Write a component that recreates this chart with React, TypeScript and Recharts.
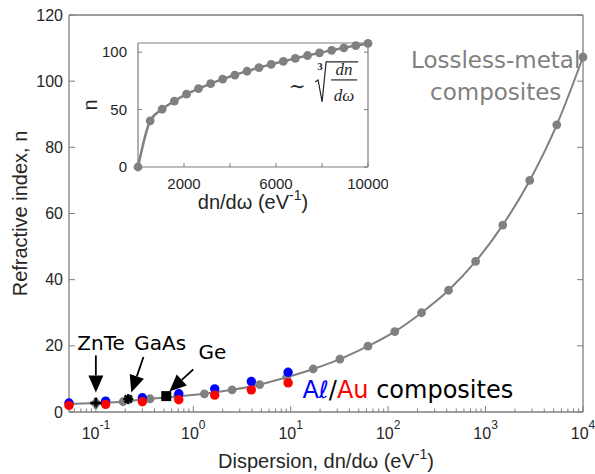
import React from "react";
import {
  ComposedChart,
  Line,
  Scatter,
  XAxis,
  YAxis,
  ReferenceLine,
  ReferenceDot,
} from "recharts";

// main panel: lossless-metal composites (gray curve + dots)
const grayX = [0.053, 0.1, 0.19, 0.36, 0.69, 1.3, 2.5, 4.8, 9.1, 17, 32, 62, 117, 220, 417, 790, 1500, 2840, 5380, 10000];
const grayN = [2.4, 2.7, 3.1, 4.0, 4.7, 5.5, 6.7, 8.3, 10.5, 13.0, 16.0, 19.9, 24.3, 30.0, 36.8, 45.5, 56.5, 70.0, 86.8, 107.3];

// Al (blue) / Au (red) composites
const metalX = [0.053, 0.126, 0.3, 0.71, 1.66, 3.94, 9.4];
const alN = [2.7, 3.3, 4.3, 5.5, 7.0, 9.2, 12.0];
const auN = [2.0, 2.3, 3.1, 3.7, 5.1, 6.7, 8.8];

// semiconductors
const materials = ["ZnTe", "GaAs", "Ge"];
const materialX = [0.1, 0.215, 0.528];
const materialN = [2.7, 3.9, 4.8];

// annotation arrows (data coords): start -> tip, plus label anchor
const arrowFromX = [0.1, 0.308, 1.0];
const arrowFromN = [17.1, 16.6, 12.9];
const arrowToX = [0.1, 0.231, 0.567];
const arrowToN = [5.9, 5.9, 6.2];
const labelX = [0.113, 0.458, 1.57];
const labelN = [18.6, 18.6, 15.9];

// inset: linear scale
const insetX = [0, 530, 1050, 1580, 2110, 2630, 3160, 3680, 4210, 4740, 5260, 5790, 6320, 6840, 7370, 7890, 8420, 8950, 9470, 10000];
const insetN = [0, 40.2, 50.3, 57.4, 63.4, 68.3, 72.6, 76.5, 80.1, 83.4, 86.5, 89.4, 92.0, 94.6, 97.1, 99.4, 101.6, 103.8, 105.8, 107.6];

const yTicks = [0, 20, 40, 60, 80, 100, 120];
const insetXTicks = [2000, 4000, 6000, 8000, 10000];
const insetXLabels = [2000, 6000, 10000];
const insetYTicks = [0, 50, 100];

const logTicks: number[] = [];
for (let d = -2; d < 4; d++) {
  for (let k = 1; k < 10; k++) {
    const v = Number((k * Math.pow(10, d)).toPrecision(3));
    if (v >= 0.06) logTicks.push(v);
  }
}
logTicks.push(10000);

const GRAY = "#808080";
const AXIS = "#7f7f7f";
const TXT = "#262626";
const SANS = "'Liberation Sans', Arial, Helvetica, sans-serif";
const DEJAVU = "'DejaVu Sans', sans-serif";
const SERIF = "'Liberation Serif', 'DejaVu Serif', serif";

const grayData = grayX.map((x, i) => ({ x, n: grayN[i] }));
const alData = metalX.map((x, i) => ({ x, n: alN[i] }));
const auData = metalX.map((x, i) => ({ x, n: auN[i] }));
const insetData = insetX.map((x, i) => ({ x, n: insetN[i] }));

function LogTick(props: any) {
  const { x, y, payload, side } = props;
  const e = Math.log10(payload.value);
  const major = Math.abs(e - Math.round(e)) < 1e-6;
  const len = major ? 6 : 3.5;
  const dir = side === "bottom" ? -1 : 1;
  return (
    <g>
      <line x1={x} y1={y} x2={x} y2={y + dir * len} stroke={AXIS} strokeWidth={1} />
      {side === "bottom" && major && (
        <text x={x} y={y + 27} textAnchor="middle" fontSize={16} fill={TXT} fontFamily={SANS}>
          <tspan>10</tspan>
          <tspan dy={-10} fontSize={12}>{Math.round(e)}</tspan>
        </text>
      )}
    </g>
  );
}

function LinTick(props: any) {
  const { x, y, payload, side, len, labels, fontSize, gap } = props;
  const v = payload.value;
  const show = labels && labels.includes(v);
  let line = null;
  let label = null;
  if (side === "left") {
    line = <line x1={x} y1={y} x2={x + len} y2={y} stroke={AXIS} />;
    if (show)
      label = (
        <text x={x - gap} y={y} dy="0.35em" textAnchor="end" fontSize={fontSize} fill={TXT} fontFamily={SANS}>
          {v}
        </text>
      );
  } else if (side === "right") {
    line = <line x1={x} y1={y} x2={x - len} y2={y} stroke={AXIS} />;
  } else if (side === "top") {
    line = <line x1={x} y1={y} x2={x} y2={y + len} stroke={AXIS} />;
  } else {
    line = <line x1={x} y1={y} x2={x} y2={y - len} stroke={AXIS} />;
    if (show)
      label = (
        <text x={x} y={y + gap} dy="0.35em" textAnchor="middle" fontSize={fontSize} fill={TXT} fontFamily={SANS}>
          {v}
        </text>
      );
  }
  return (
    <g>
      {line}
      {label}
    </g>
  );
}

function Arrow(p: any) {
  const { x1, y1, x2, y2 } = p;
  const dx = x2 - x1;
  const dy = y2 - y1;
  const L = Math.hypot(dx, dy) || 1;
  const ux = dx / L;
  const uy = dy / L;
  const hl = 17;
  const hw = 7.5;
  const bx = x2 - ux * hl;
  const by = y2 - uy * hl;
  return (
    <g>
      <line x1={x1} y1={y1} x2={bx} y2={by} stroke="#000" strokeWidth={1.8} />
      <polygon
        points={`${x2},${y2} ${bx - uy * hw},${by + ux * hw} ${bx + uy * hw},${by - ux * hw}`}
        fill="#000"
      />
    </g>
  );
}

const dotShape = (fill: string, r: number) => (p: any) =>
  <circle cx={p.cx} cy={p.cy} r={r} fill={fill} />;

const plusShape = (p: any) => (
  <g stroke="#000" strokeWidth={3}>
    <line x1={p.cx - 5.5} y1={p.cy} x2={p.cx + 5.5} y2={p.cy} />
    <line x1={p.cx} y1={p.cy - 5.5} x2={p.cx} y2={p.cy + 5.5} />
  </g>
);

const starShape = (p: any) => (
  <g stroke="#000" strokeWidth={2.6}>
    <line x1={p.cx - 5} y1={p.cy} x2={p.cx + 5} y2={p.cy} />
    <line x1={p.cx} y1={p.cy - 5} x2={p.cx} y2={p.cy + 5} />
    <line x1={p.cx - 3.6} y1={p.cy - 3.6} x2={p.cx + 3.6} y2={p.cy + 3.6} />
    <line x1={p.cx - 3.6} y1={p.cy + 3.6} x2={p.cx + 3.6} y2={p.cy - 3.6} />
  </g>
);

const squareShape = (p: any) => <rect x={p.cx - 5} y={p.cy - 5} width={10} height={10} fill="#000" />;

const markerShapes = [plusShape, starShape, squareShape];

function MainChart() {
  return (
    <ComposedChart width={595} height={474} margin={{ top: 14, right: 11, bottom: 22, left: 29 }}>
      <XAxis
        xAxisId="b"
        type="number"
        dataKey="x"
        scale="log"
        domain={[0.053, 10000]}
        ticks={logTicks}
        interval={0}
        tickSize={0}
        tickMargin={0}
        tickLine={false}
        tick={<LogTick side="bottom" />}
        height={40}
        axisLine={{ stroke: AXIS, strokeWidth: 1.3 }}
        label={{
          content: (p: any) => {
            const vb = p.viewBox;
            return (
              <text x={vb.x + vb.width / 2} y={vb.y + 56} textAnchor="middle" fontSize={20} fill={TXT} fontFamily={SANS}>
                <tspan>Dispersion, dn/dω (eV</tspan>
                <tspan dy={-9} fontSize={14}>-1</tspan>
                <tspan dy={9}>)</tspan>
              </text>
            );
          },
        }}
      />
      <XAxis
        xAxisId="t"
        orientation="top"
        type="number"
        scale="log"
        domain={[0.053, 10000]}
        allowDataOverflow
        ticks={logTicks}
        interval={0}
        tickSize={0}
        tickMargin={0}
        tickLine={false}
        tick={<LogTick side="top" />}
        height={1}
        axisLine={{ stroke: AXIS, strokeWidth: 1.3 }}
      />
      <YAxis
        yAxisId="l"
        type="number"
        domain={[0, 120]}
        ticks={yTicks}
        interval={0}
        tickSize={0}
        tickMargin={0}
        tickLine={false}
        tick={<LinTick side="left" len={6} labels={yTicks} fontSize={16} gap={6} />}
        width={40}
        axisLine={{ stroke: AXIS, strokeWidth: 1.3 }}
        label={{
          content: (p: any) => {
            const vb = p.viewBox;
            const cx = vb.x - 2;
            const cy = vb.y + vb.height / 2;
            return (
              <text x={cx} y={cy} transform={`rotate(-90 ${cx} ${cy})`} textAnchor="middle" fontSize={20} fill={TXT} fontFamily={SANS}>
                Refractive index, n
              </text>
            );
          },
        }}
      />
      <YAxis
        yAxisId="r"
        orientation="right"
        type="number"
        domain={[0, 120]}
        allowDataOverflow
        ticks={yTicks}
        interval={0}
        tickSize={0}
        tickMargin={0}
        tickLine={false}
        tick={<LinTick side="right" len={6} />}
        width={1}
        axisLine={{ stroke: AXIS, strokeWidth: 1.3 }}
      />

      <Line
        xAxisId="b"
        yAxisId="l"
        data={grayData}
        dataKey="n"
        type="monotone"
        stroke={GRAY}
        strokeWidth={2}
        dot={{ r: 4.4, fill: GRAY, stroke: GRAY, strokeWidth: 0 }}
        isAnimationActive={false}
      />
      <Scatter xAxisId="b" yAxisId="l" data={alData} dataKey="n" shape={dotShape("#0000ff", 4.7)} isAnimationActive={false} />
      <Scatter xAxisId="b" yAxisId="l" data={auData} dataKey="n" shape={dotShape("#ff0000", 4.7)} isAnimationActive={false} />
      {materials.map((m, i) => (
        <Scatter
          key={m}
          xAxisId="b"
          yAxisId="l"
          data={[{ x: materialX[i], n: materialN[i] }]}
          dataKey="n"
          shape={markerShapes[i]}
          isAnimationActive={false}
        />
      ))}

      {materials.map((m, i) => (
        <ReferenceLine
          key={`arrow-${m}`}
          xAxisId="b"
          yAxisId="l"
          segment={[
            { x: arrowFromX[i], y: arrowFromN[i] },
            { x: arrowToX[i], y: arrowToN[i] },
          ]}
          shape={(p: any) => <Arrow {...p} />}
        />
      ))}
      {materials.map((m, i) => (
        <ReferenceDot
          key={`label-${m}`}
          xAxisId="b"
          yAxisId="l"
          x={labelX[i]}
          y={labelN[i]}
          shape={(p: any) => (
            <text x={p.cx} y={p.cy} textAnchor="middle" fontSize={20} fill="#000" fontFamily={DEJAVU}>
              {m}
            </text>
          )}
        />
      ))}

      <ReferenceDot
        xAxisId="b"
        yAxisId="l"
        x={13.2}
        y={4.2}
        shape={(p: any) => (
          <text x={p.cx} y={p.cy} fontSize={24} fontFamily={DEJAVU} fill="#000">
            <tspan fill="#0000ff">Aℓ</tspan>
            <tspan>/</tspan>
            <tspan fill="#ff0000">Au</tspan>
            <tspan> composites</tspan>
          </text>
        )}
      />
      <ReferenceDot
        xAxisId="b"
        yAxisId="l"
        x={1270}
        y={103.9}
        shape={(p: any) => (
          <text x={p.cx} y={p.cy} textAnchor="middle" fontSize={23} fontFamily={DEJAVU} fill={GRAY}>
            <tspan x={p.cx}>Lossless-metal</tspan>
            <tspan x={p.cx} dy={32}>composites</tspan>
          </text>
        )}
      />
    </ComposedChart>
  );
}

function CubeRootNote(p: any) {
  const ax = p.cx;
  const ay = p.cy;
  return (
    <g fill={TXT}>
      <text x={ax - 18} y={ay + 4} textAnchor="middle" fontSize={20} fontFamily={SERIF}>
        ∼
      </text>
      <path
        d={`M${ax} ${ay - 7} L${ax + 3} ${ay - 9} L${ax + 7} ${ay + 13} L${ax + 11} ${ay - 27} L${ax + 43} ${ay - 27}`}
        fill="none"
        stroke={TXT}
        strokeWidth={1.2}
      />
      <text x={ax + 5} y={ay - 19} textAnchor="middle" fontSize={11} fontFamily={SERIF} fontWeight="bold">
        3
      </text>
      <text x={ax + 29} y={ay - 14} textAnchor="middle" fontSize={17} fontFamily={SERIF} fontStyle="italic">
        dn
      </text>
      <line x1={ax + 16} y1={ay - 9} x2={ax + 42} y2={ay - 9} stroke={TXT} strokeWidth={1.2} />
      <text x={ax + 29} y={ay + 12} textAnchor="middle" fontSize={17} fontFamily={SERIF} fontStyle="italic">
        dω
      </text>
    </g>
  );
}

function InsetChart() {
  return (
    <ComposedChart width={328} height={200} margin={{ top: 11, right: 19, bottom: 24, left: 38 }}>
      <XAxis
        xAxisId="b"
        type="number"
        dataKey="x"
        domain={[0, 10000]}
        ticks={insetXTicks}
        interval={0}
        tickSize={0}
        tickMargin={0}
        tickLine={false}
        tick={<LinTick side="bottom" len={4} labels={insetXLabels} fontSize={15} gap={17} />}
        height={40}
        axisLine={{ stroke: AXIS, strokeWidth: 1.2 }}
        label={{
          content: (p: any) => {
            const vb = p.viewBox;
            return (
              <text x={vb.x + vb.width / 2} y={vb.y + 42} textAnchor="middle" fontSize={20} fill={TXT} fontFamily={SANS}>
                <tspan>dn/dω (eV</tspan>
                <tspan dy={-9} fontSize={14}>-1</tspan>
                <tspan dy={9}>)</tspan>
              </text>
            );
          },
        }}
      />
      <XAxis
        xAxisId="t"
        orientation="top"
        type="number"
        domain={[0, 10000]}
        allowDataOverflow
        ticks={insetXTicks}
        interval={0}
        tickSize={0}
        tickMargin={0}
        tickLine={false}
        tick={<LinTick side="top" len={4} />}
        height={1}
        axisLine={{ stroke: AXIS, strokeWidth: 1.2 }}
      />
      <YAxis
        yAxisId="l"
        type="number"
        domain={[0, 108]}
        ticks={insetYTicks}
        interval={0}
        tickSize={0}
        tickMargin={0}
        tickLine={false}
        tick={<LinTick side="left" len={4} labels={insetYTicks} fontSize={15} gap={11} />}
        width={40}
        axisLine={{ stroke: AXIS, strokeWidth: 1.2 }}
        label={{
          content: (p: any) => {
            const vb = p.viewBox;
            const cx = vb.x - 1;
            const cy = vb.y + vb.height / 2;
            return (
              <text x={cx} y={cy} transform={`rotate(-90 ${cx} ${cy})`} textAnchor="middle" fontSize={20} fill={TXT} fontFamily={SANS}>
                n
              </text>
            );
          },
        }}
      />
      <YAxis
        yAxisId="r"
        orientation="right"
        type="number"
        domain={[0, 108]}
        allowDataOverflow
        ticks={insetYTicks}
        interval={0}
        tickSize={0}
        tickMargin={0}
        tickLine={false}
        tick={<LinTick side="right" len={4} />}
        width={1}
        axisLine={{ stroke: AXIS, strokeWidth: 1.2 }}
      />
      <Line
        xAxisId="b"
        yAxisId="l"
        data={insetData}
        dataKey="n"
        type="monotone"
        stroke={GRAY}
        strokeWidth={2.5}
        dot={{ r: 4.4, fill: GRAY, stroke: GRAY, strokeWidth: 0 }}
        isAnimationActive={false}
      />
      <ReferenceDot xAxisId="b" yAxisId="l" x={7700} y={68} shape={(p: any) => <CubeRootNote {...p} />} />
    </ComposedChart>
  );
}

export default function App() {
  return (
    <div style={{ position: "absolute", left: 0, top: 0, width: 595, height: 474, background: "#fff" }}>
      <MainChart />
      <div style={{ position: "absolute", left: 60, top: 31 }}>
        <InsetChart />
      </div>
    </div>
  );
}
